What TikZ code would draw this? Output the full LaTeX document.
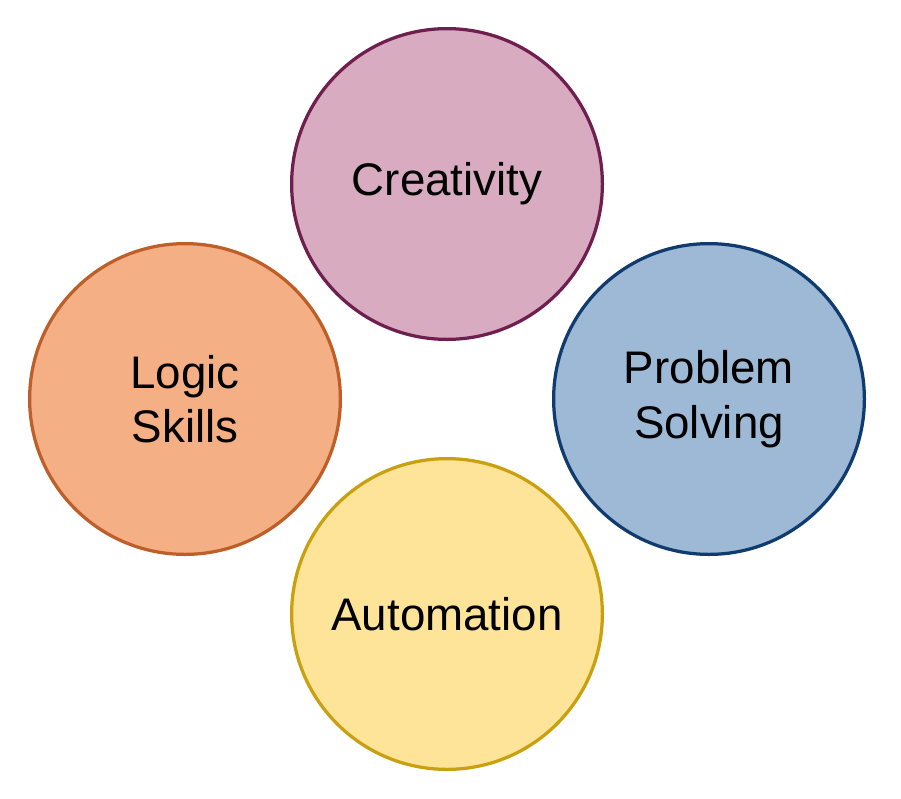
\documentclass[tikz,border=0pt]{standalone}
\usepackage{fontspec}
\setmainfont{Liberation Sans}
\usepackage{xcolor}
\usepackage{tikz}
\usetikzlibrary{positioning, calc}

\definecolor{creafill}{HTML}{D8ABC0}
\definecolor{creadraw}{HTML}{6E1F4F}
\definecolor{logicfill}{HTML}{F4AF84}
\definecolor{logicdraw}{HTML}{BE5F2A}
\definecolor{probfill}{HTML}{9DB9D6}
\definecolor{probdraw}{HTML}{0F3B6E}
\definecolor{autofill}{HTML}{FEE499}
\definecolor{autodraw}{HTML}{C9A010}

\begin{document}
\begin{tikzpicture}[
    skill/.style={circle, draw, line width=0.065cm, minimum size=6.215cm, inner sep=0pt, align=center, font=\fontsize{26}{31}\selectfont},
    crea/.style={skill, fill=creafill, draw=creadraw},
    logic/.style={skill, fill=logicfill, draw=logicdraw},
    prob/.style={skill, fill=probfill, draw=probdraw},
    auto/.style={skill, fill=autofill, draw=autodraw}
]

    % --- Canvas ---
    \useasboundingbox (0,0) rectangle (18.02,-15.96);

    % --- Skill circles ---
    \node[crea] (creativity) at (8.94,-3.68) {Creativity};
    \node[logic] (logic) at (3.70,-7.98) {Logic\\Skills};
    \node[prob] (problem) at (14.18,-7.98) {Problem\\Solving};
    \node[auto] (automation) at (8.94,-12.28) {Automation};

\end{tikzpicture}
\end{document}
